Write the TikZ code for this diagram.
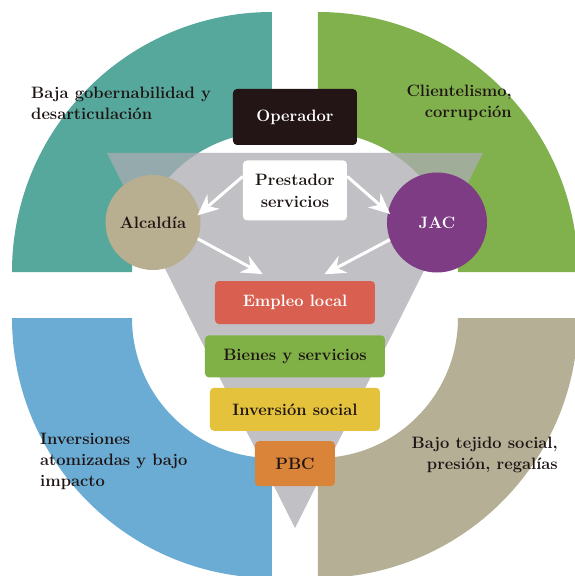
\documentclass[tikz,border=0pt]{standalone}
\usepackage{xcolor}
\usetikzlibrary{arrows.meta,positioning}
\definecolor{quadcolor1}{RGB}{86,167,156}
\definecolor{quadcolor2}{RGB}{129,177,76}
\definecolor{quadcolor3}{RGB}{107,172,212}
\definecolor{quadcolor4}{RGB}{181,175,150}
\definecolor{funnelcolor}{RGB}{171,172,178}
\definecolor{opcolor}{RGB}{35,20,22}
\definecolor{alccolor}{RGB}{184,175,144}
\definecolor{jaccolor}{RGB}{125,60,132}
\definecolor{empcolor}{RGB}{217,96,80}
\definecolor{biencolor}{RGB}{128,177,70}
\definecolor{invcolor}{RGB}{228,194,60}
\definecolor{pbccolor}{RGB}{218,132,58}
\definecolor{inkcolor}{RGB}{30,20,20}

\begin{document}
\begin{tikzpicture}[x=10pt,y=10pt,
    box/.style={rounded corners=4pt,inner sep=0pt,minimum height=43pt,align=center,
        text=inkcolor,font=\fontsize{16.5}{22}\selectfont\bfseries},
    actor/.style={circle,inner sep=0pt,text=inkcolor,font=\fontsize{16.5}{22}\selectfont\bfseries},
    quadlabel/.style={inner sep=0pt,text=inkcolor,font=\fontsize{16.5}{21}\selectfont\bfseries},
    flow/.style={white,line width=3pt,-{Stealth[length=21pt,width=19pt,inset=7pt]}}]
    % Page frame
    \useasboundingbox (-29.5,-28.1) rectangle (28,29.5);
    \fill[white] (-29.5,-28.1) rectangle (28,29.5);

    % Four quarter rings around the centre
    \foreach \sx/\sy/\a/\col in {-1/1/90/quadcolor1, 1/1/0/quadcolor2,
                                 -1/-1/180/quadcolor3, 1/-1/270/quadcolor4} {
        \fill[\col] (\sx*2.3,\sy*2.3) ++(\a:14) -- ++(\a:12)
            arc[start angle=\a,end angle=\a+90,radius=26] -- ++(\a+270:12)
            arc[start angle=\a+90,end angle=\a,radius=14] -- cycle;
    }

    % Funnel
    \fill[funnelcolor,fill opacity=0.75] (-18.8,14.2) -- (18.8,14.2) -- (0,-23.3) -- cycle;

    % Actors
    \node[box,fill=opcolor,text=white,minimum width=124pt,minimum height=56pt] (op) at (0,17.8) {Operador};
    \node[box,fill=white,minimum width=104pt,minimum height=60pt,below=15pt of op] (prest) {Prestador\\servicios};
    \node[actor,fill=alccolor,minimum size=95pt] (alc) at (-14.2,7.25) {Alcaldía};
    \node[actor,fill=jaccolor,text=white,minimum size=100pt] (jac) at (14.2,7.25) {JAC};

    % Funnel levels
    \node[box,fill=empcolor,text=white,minimum width=160pt] (emp) at (0,-0.75) {Empleo local};
    \node[box,fill=biencolor,minimum width=180pt,minimum height=42pt,below=11pt of emp] (bien) {Bienes y servicios};
    \node[box,fill=invcolor,minimum width=170pt,below=10pt of bien] (inv) {Inversión social};
    \node[box,fill=pbccolor,minimum width=80pt,minimum height=45pt,below=10pt of inv] (pbc) {PBC};

    % Arrows
    \draw[flow,shorten >=-3pt] (prest.165) -- (alc.11);
    \draw[flow,shorten >=-3pt] (prest.15) -- (jac.168);
    \draw[flow,shorten >=14pt] (alc.-20) -- ([xshift=-20pt]emp.north);
    \draw[flow,shorten >=14pt] (jac.200) -- ([xshift=17pt]emp.north);

    % Quadrant labels
    \node[quadlabel,anchor=base west,align=left] (gob) at (-26.4,17.5) {Baja gobernabilidad y\\desarticulación};
    \node[quadlabel,anchor=base east,align=right] (cli) at (21.7,17.7) {Clientelismo,\\corrupción};
    \node[quadlabel,anchor=base west,align=left] (atom) at (-25.5,-19.1) {Inversiones\\atomizadas y bajo\\impacto};
    \node[quadlabel,anchor=base east,align=right] (tej) at (26.3,-17.4) {Bajo tejido social,\\presión, regalías};
\end{tikzpicture}
\end{document}
